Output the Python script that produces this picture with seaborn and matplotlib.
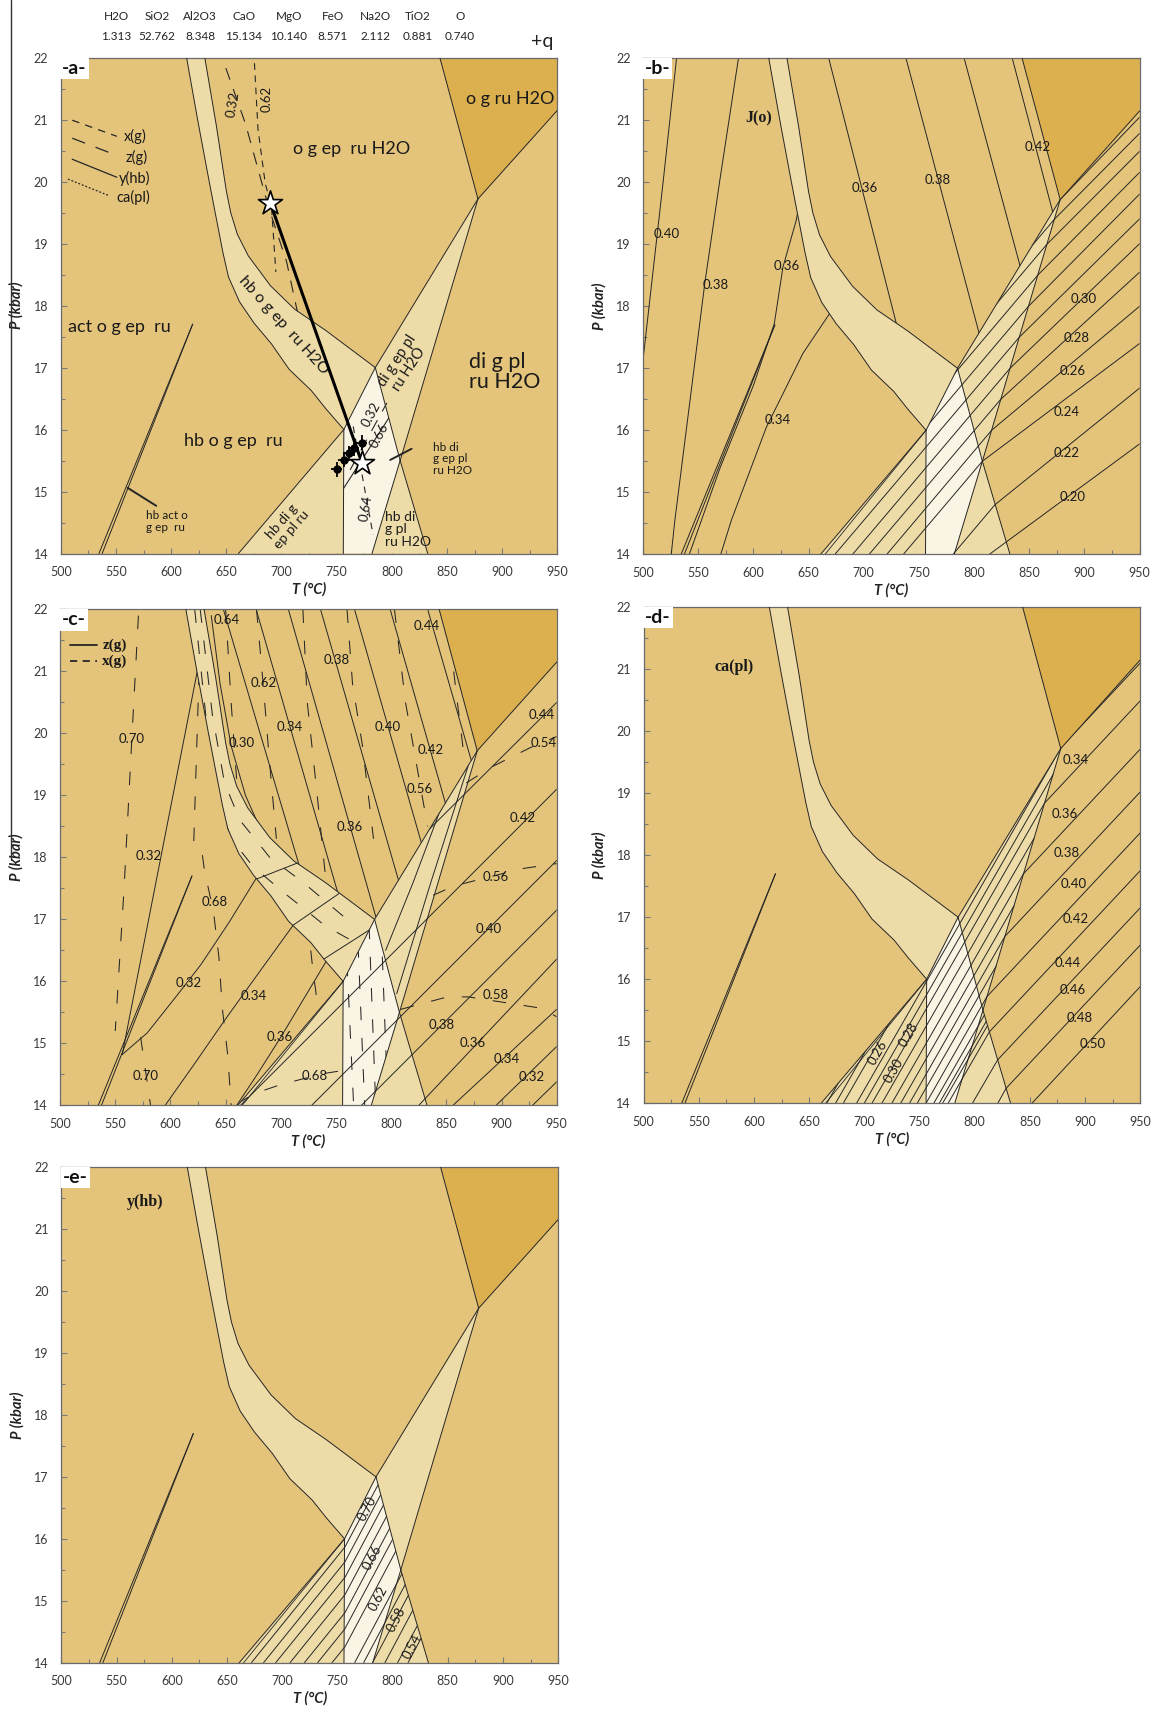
import matplotlib
matplotlib.use('Agg')
import matplotlib.pyplot as plt
from matplotlib.patches import Polygon
from matplotlib.lines import Line2D
from matplotlib.ticker import MultipleLocator
import seaborn as sns

sns.set_theme(style="white")
plt.rcParams['font.family'] = ['Lato', 'DejaVu Sans']

# colours of the fields
TAN = '#E4C47A'
LIGHT = '#EEDCA8'
PALE = '#FAF4E4'
DARK = '#DCAF4F'
INK = '#262626'

# ====================================================
#           BULK COMPOSITION (header)
# ====================================================
OXIDES = ['H2O', 'SiO2', 'Al2O3', 'CaO', 'MgO', 'FeO', 'Na2O', 'TiO2', 'O']
OXIDE_VALUES = ['1.313', '52.762', '8.348', '15.134', '10.140', '8.571', '2.112', '0.881', '0.740']

# ====================================================
#      SHARED PSEUDOSECTION TOPOLOGY  (T degC, P kbar)
# ====================================================
band_left_T = [614, 624, 634.5, 641, 647, 652, 662, 675, 691, 707, 727, 740, 756.5]
band_left_P = [22, 21, 20, 19.4, 18.85, 18.46, 18.06, 17.72, 17.38, 16.97, 16.63, 16.34, 16.0]
band_right_T = [630.5, 641, 650, 654, 660, 670, 690, 712, 740, 785]
band_right_P = [22, 20.9, 19.85, 19.5, 19.15, 18.8, 18.32, 17.94, 17.6, 17.0]

C = (756.5, 16.0)
D = (785, 17.0)
E = (878, 19.72)
F = (807.5, 15.5)
G = (843.5, 22)
H = (950, 21.15)
BOT_LIGHT_L = (661, 14)
BOT_PALE_L = (756, 14)
BOT_PALE_R = (782, 14)
BOT_LIGHT_R = (832.5, 14)
ACT_LINES = [[(534.6, 14), (619.5, 17.7)], [(537.5, 14), (619.5, 17.7)]]

BAND_L = list(zip(band_left_T, band_left_P))
BAND_R = list(zip(band_right_T, band_right_P))

BAND = BAND_L + BAND_R[::-1]
DARK_FIELD = [G, (950, 22), H, E]
DI_BAND = [D, E, F]
PALE_FIELD = [C, D, F, BOT_PALE_R, BOT_PALE_L]
HB_DI_PL = [F, BOT_LIGHT_R, BOT_PALE_R]
HB_DI_EP = [C, BOT_PALE_L, BOT_LIGHT_L]

FIELDS = [(BAND, LIGHT), (DARK_FIELD, DARK), (DI_BAND, LIGHT), (PALE_FIELD, PALE),
          (HB_DI_PL, LIGHT), (HB_DI_EP, LIGHT)]

BOUNDARIES = [BAND_L, BAND_R, [C, D], [D, E], [E, H], [G, E], [E, F],
              [D, F, BOT_PALE_R], [F, BOT_LIGHT_R], [C, BOT_PALE_L], [C, BOT_LIGHT_L]] + ACT_LINES

# clip zones for isopleths
ZONES = {
    'pl': [BOT_LIGHT_L, C, D, E, H, (950, 14)],
    'upper': BAND_R + [E, G],
    'left': [(500, 14), (500, 22)] + BAND_L + [BOT_LIGHT_L],
    'hbpl': [BOT_LIGHT_L, C, D, F, BOT_LIGHT_R],
    'band': BAND,
    'pale': PALE_FIELD,
    'di': DI_BAND,
}

# ====================================================
#            PANEL a : phase assemblages
# ====================================================
A_FIELD_LABELS = [
    ('o g ru H2O', 907, 21.34, 0, 13, 'center'),
    ('o g ep  ru H2O', 763.5, 20.53, 0, 13, 'center'),
    ('act o g ep  ru', 507, 17.65, 0, 13, 'left'),
    ('hb o g ep  ru', 656, 15.82, 0, 13, 'center'),
    ('di g pl\nru H2O', 869.7, 16.93, 0, 15.5, 'left'),
    ('hb o g ep  ru H2O', 701.4, 17.68, -48, 11.5, 'center'),
    ('di g ep pl\nru H2O', 810, 17.04, 57, 10.5, 'center'),
    ('hb di g\nep pl ru', 704.6, 14.45, 49, 10, 'center'),
    ('hb di\ng pl\nru H2O', 793.6, 14.39, 0, 10, 'left'),
    ('hb di\ng ep pl\nru H2O', 837.3, 15.53, 0, 8.5, 'left'),
    ('hb act o\ng ep  ru', 576.8, 14.52, 0, 8.5, 'left'),
]
A_POINTERS = [[(798.5, 15.51), (817.9, 15.69)], [(560.6, 15.06), (586.5, 14.77)]]
A_LONGDASH = [[(649.6, 21.83), (667.4, 20.93), (688.4, 19.58), (704.6, 18.71), (714.3, 17.91)],
              [(762.2, 15.35), (795.5, 16.43)]]
A_DASH = [[(675.5, 21.91), (678.7, 20.85), (685.2, 19.98), (691, 19.58), (694.9, 18.54)],
          [(765, 16.05), (783, 14.3)]]
A_SOLID = [[(756.2, 15.05), (797, 16.18)]]
A_ISO_LABELS = [('0.32', 656, 21.25, 80), ('0.62', 686.8, 21.34, 90),
                ('0.32', 781.5, 16.24, 62), ('0.66', 789, 15.9, 62), ('0.64', 776.5, 14.73, 80)]
A_LEGEND = [('x(g)', [(510.4, 20.99), (550.8, 20.73)], (0, (6, 5)), (557.3, 20.72)),
            ('z(g)', [(510.4, 20.70), (552.4, 20.41)], (0, (11, 9)), (558.3, 20.39)),
            ('y(hb)', [(510.4, 20.36), (550.8, 20.07)], '-', (552.4, 20.05)),
            ('ca(pl)', [(506.5, 20.04), (542.7, 19.78)], (0, (1.5, 1.5)), (550.8, 19.75))]
PATH_T = [690, 773]
PATH_P = [19.65, 15.46]
PT_T = [750.2, 756.2, 761.6, 765.3, 772.9]
PT_P = [15.36, 15.51, 15.62, 15.70, 15.79]

# ====================================================
#            PANEL b : J(o)
# ====================================================
B_LINES = [
    ('left', [(530.4, 22), (518.4, 20.03), (500, 17.13), (498, 16.8)]),
    ('left', [(586.5, 22), (569.6, 20.03), (556, 18.37), (528.9, 14.55), (525.6, 14)]),
    ('left', [(641, 19.6), (638.9, 19.39), (626.8, 18.63), (619, 17.72), (600, 16.72), (570, 15.4), (542, 14)]),
    ('left', [(672, 18.0), (669, 17.88), (644.9, 17.24), (623.8, 16.48), (611.8, 16.05), (580.1, 14.55), (570.5, 14)]),
    ('upper', [(668.3, 22), (735, 17.34)]),
    ('upper', [(738.3, 22), (810, 17.2)]),
    ('upper', [(791, 22), (850, 18.1)]),
    ('upper', [(834.6, 22), (876, 19.2)]),
    ('pl', [(606, 14), (878, 19.72), (950, 21.05)]),
    ('pl', [(616, 14), (872.6, 19.4), (950, 20.79)]),
    ('pl', [(628, 14), (866, 19.0), (950, 20.5)]),
    ('pl', [(644, 14), (857.6, 18.5), (950, 20.16)]),
    ('pl', [(659, 14), (849.3, 18.0), (950, 19.81)]),
    ('pl', [(674, 14), (840.9, 17.5), (950, 19.41)]),
    ('pl', [(690, 14), (832.6, 17.0), (950, 19.01)]),
    ('pl', [(705, 14), (824.2, 16.5), (950, 18.55)]),
    ('pl', [(721, 14), (815.9, 16.0), (950, 18.0)]),
    ('pl', [(736, 14), (807.5, 15.5), (950, 17.4)]),
    ('pl', [(781, 14), (819, 14.8), (950, 16.68)]),
    ('pl', [(814, 14), (950, 15.78)]),
]
B_LABELS = [('0.40', 521.4, 19.16), ('0.38', 566, 18.35), ('0.36', 630.4, 18.65), ('0.34', 622.3, 16.16),
            ('0.36', 700.6, 19.9), ('0.38', 766.8, 20.04), ('0.42', 857.2, 20.57),
            ('0.30', 899, 18.12), ('0.28', 892.6, 17.49), ('0.26', 889.4, 16.95),
            ('0.24', 884, 16.3), ('0.22', 884, 15.64), ('0.20', 889.4, 14.92)]

# ====================================================
#            PANEL c : z(g) solid, x(g) dashed
# ====================================================
C_SOLID = [
    ('upper', [(648, 22), (722, 17.55)]),
    ('upper', [(677.7, 22), (757, 17.1)]),
    ('upper', [(706.9, 22), (790, 16.8)]),
    ('upper', [(736, 22), (812, 17.3)]),
    ('upper', [(766.8, 22), (836, 17.7)]),
    ('upper', [(799.1, 22), (860, 18.2)]),
    ('upper', [(833.1, 22), (885, 18.8)]),
    ('upper', [(637, 21.9), (645, 20.8), (655, 19.8), (668, 19.0), (678, 18.6)]),
    ('band', [(675, 17.63), (718, 17.93)]),
    ('band', [(709, 16.88), (753, 17.42)]),
    ('band', [(739, 16.36), (782, 16.85)]),
    ('di', [(805, 15.8), (836, 17.6), (872, 19.6)]),
    ('di', [(795, 16.5), (820, 17.6), (860, 19.5)]),
    ('left', [(556.3, 14.82), (624.3, 21.0), (626, 21.2)]),
    ('left', [(556.3, 14.82), (579, 15.17), (604.9, 15.75), (627.6, 16.27), (653.4, 16.96), (679, 17.7)]),
    ('left', [(595.2, 14), (621, 14.65), (650.2, 15.4), (679.3, 16.12), (713, 16.95)]),
    ('left', [(660, 14), (678.3, 14.49), (700, 15.1), (742, 16.35)]),
    ('pl', [(583, 14), (950, 20.5)]),
    ('pl', [(663.5, 14), (950, 19.1)]),
    ('pl', [(728, 14), (950, 17.95)]),
    ('pl', [(773, 14), (950, 17.15)]),
    ('pl', [(825, 14), (950, 16.36)]),
    ('pl', [(856, 14), (950, 15.55)]),
    ('pl', [(895, 14), (950, 14.95)]),
    ('pl', [(928, 14), (950, 14.38)]),
]
C_DASH = [
    ('left', [(571, 21.9), (565, 19.9), (558, 17.5), (550, 15.2)]),
    ('left', [(573, 15.1), (582, 14)]),
    ('left', [(626, 21.0), (621, 18.17), (629, 18.03), (631, 17.77), (639, 17.13), (644, 16.38),
              (647, 15.57), (652, 14.8), (655, 14)]),
    ('left', [(724, 17.0), (729, 16.2), (735, 15.4)]),
    ('upper', [(650, 22), (655, 20.5), (661, 19.0)]),
    ('upper', [(678, 22), (684, 20.8), (690, 19.5), (696, 18.3)]),
    ('upper', [(720, 22), (724, 20.5), (733, 19.0), (741, 17.6)]),
    ('upper', [(760, 22), (765, 20.8), (774, 19.8), (784, 18.3)]),
    ('upper', [(803, 22), (813, 20.5), (825, 19.3), (833, 18.5)]),
    ('upper', [(850, 22), (860, 20.5), (867, 19.5)]),
    ('band', [(622, 22), (632, 20.3), (642, 19.0), (655, 18.3), (675, 17.85), (705, 17.4), (740, 16.9), (770, 16.6)]),
    ('band', [(627, 22), (638, 20.3), (649, 19.2), (663, 18.6), (690, 18.0), (720, 17.6), (760, 17.0)]),
    ('pale', [(760, 16.3), (766, 14)]),
    ('pale', [(770, 16.6), (776, 14)]),
    ('pale', [(780, 16.9), (786, 14)]),
    ('pale', [(792, 16.4), (796, 14.5)]),
    ('pl', [(868, 19.2), (890, 19.45), (926, 19.77), (950, 19.95)]),
    ('pl', [(838, 17.39), (857, 17.54), (919, 17.82), (950, 17.9)]),
    ('pl', [(808.8, 15.55), (851, 15.75), (870, 15.75), (935, 15.57), (950, 15.43)]),
    ('pl', [(660, 14.02), (676, 14.19), (699, 14.33), (737.6, 14.51), (755.4, 14.56)]),
]
C_LABELS = [('0.64', 651, 21.83), ('0.62', 684.3, 20.82), ('0.30', 664.7, 19.85), ('0.34', 708.5, 20.1),
            ('0.38', 750.8, 21.18), ('0.40', 796.7, 20.11), ('0.42', 835.4, 19.73), ('0.44', 832.4, 21.74),
            ('0.56', 825.7, 19.11), ('0.36', 762.9, 18.49), ('0.70', 564.4, 19.91), ('0.32', 580.6, 18.03),
            ('0.68', 640.5, 17.28), ('0.32', 616.3, 15.97), ('0.34', 675.2, 15.77), ('0.36', 699.4, 15.11),
            ('0.70', 577.4, 14.47), ('0.68', 731.1, 14.47), ('0.44', 936.7, 20.3), ('0.54', 938.3, 19.85),
            ('0.42', 919.5, 18.63), ('0.56', 894.6, 17.68), ('0.40', 888.1, 16.85), ('0.58', 894.6, 15.78),
            ('0.38', 846, 15.3), ('0.36', 874.2, 15.01), ('0.34', 905, 14.75), ('0.32', 927, 14.45)]

# ====================================================
#            PANEL d : ca(pl)
# ====================================================
D_LINES = [
    [(693, 14), (878.3, 19.74), (950, 21.10)],
    [(707, 14), (863.3, 18.84), (950, 20.49)],
    [(725, 14), (844.2, 17.70), (950, 19.71)],
    [(741, 14), (827.4, 16.69), (950, 19.02)],
    [(756, 14), (811.2, 15.72), (950, 18.36)],
    [(776, 14), (813.3, 15.15), (950, 17.75)],
    [(798, 14), (820.9, 14.70), (950, 17.15)],
    [(821, 14), (828.5, 14.24), (950, 16.55)],
    [(852, 14), (950, 15.88)],
    [(666, 14), (850, 19.7)],
    [(674, 14), (858, 19.7)],
    [(681, 14), (865, 19.7)],
    [(700, 14), (871, 19.3)],
    [(716, 14), (853.7, 18.27)],
    [(733, 14), (835.5, 17.18)],
    [(748, 14), (819.4, 16.21)],
    [(763, 14), (808.8, 15.42)],
    [(768, 14), (810.5, 15.32)],
    [(771, 14), (811.6, 15.25)],
]
D_LABELS = [('0.34', 892, 19.54, 0), ('0.36', 881.4, 18.67, 0), ('0.38', 883.3, 18.04, 0),
            ('0.40', 889.7, 17.53, 0), ('0.42', 891.3, 16.97, 0), ('0.44', 884, 16.26, 0),
            ('0.46', 888.8, 15.83, 0), ('0.48', 895.2, 15.37, 0), ('0.50', 907, 14.96, 0),
            ('0.26', 711.9, 14.82, 60), ('0.28', 740.4, 15.11, 60), ('0.30', 726.9, 14.53, 60)]

# ====================================================
#            PANEL e : y(hb)
# ====================================================
E_LINES = [
    [(672, 14), (756.9, 15.87), (800, 17.31)],
    [(683, 14), (756.9, 15.63), (800, 17.07)],
    [(694, 14), (756.9, 15.38), (800, 16.82)],
    [(707, 14), (756.9, 15.10), (810, 16.88)],
    [(720, 14), (756.9, 14.81), (815, 16.76)],
    [(732, 14), (756.9, 14.55), (820, 16.66)],
    [(745, 14), (756.9, 14.26), (825, 16.54)],
    [(765.6, 14), (830, 16.16)],
    [(773.7, 14), (835, 16.05)],
    [(781.8, 14), (840, 15.95)],
    [(793, 14), (845, 15.74)],
    [(804.5, 14), (850, 15.52)],
    [(814, 14), (855, 15.37)],
]
E_LABELS = [('0.70', 777, 16.48), ('0.66', 781.2, 15.70), ('0.62', 786.7, 15.04),
            ('0.58', 802.9, 14.70), ('0.54', 817.5, 14.26)]

# panel rectangles (figure fractions)
W, HGT = 0.4300, 0.2902
RECTS = {'a': [0.0526, 0.6761, W, HGT], 'b': [0.5567, 0.6757, W, HGT],
         'c': [0.0520, 0.3532, W, HGT], 'd': [0.5572, 0.3545, W, HGT],
         'e': [0.0532, 0.0270, W, HGT]}


# ====================================================
#                  HELPERS
# ====================================================
def curve(ax, pts, zone=None, lw=0.7, ls='-', color=INK, z=2):
    xs = [p[0] for p in pts]
    ys = [p[1] for p in pts]
    sns.lineplot(x=xs, y=ys, sort=False, estimator=None, ax=ax,
                 color=color, linewidth=lw, linestyle=ls, zorder=z)
    line = ax.lines[-1]
    if zone is not None:
        line.set_clip_path(Polygon(ZONES[zone], closed=True, transform=ax.transData))
    return line


def base_panel(fig, key, double=True):
    ax = fig.add_axes(RECTS[key])
    ax.set_facecolor(TAN)
    for pts, col in FIELDS:
        ax.fill([p[0] for p in pts], [p[1] for p in pts], color=col, lw=0, zorder=1)
    for pts in BOUNDARIES:
        curve(ax, pts, lw=0.7, z=3)
    if double:
        curve(ax, [C, (665, 14)], lw=0.6, z=3)
    return ax


def finish(ax, key):
    ax.set_xlim(500, 950)
    ax.set_ylim(14, 22)
    ax.xaxis.set_major_locator(MultipleLocator(50))
    ax.xaxis.set_minor_locator(MultipleLocator(25))
    ax.yaxis.set_major_locator(MultipleLocator(1))
    ax.yaxis.set_minor_locator(MultipleLocator(0.5))
    ax.tick_params(which='both', direction='in', color='#7a7a7a', width=0.8,
                   bottom=True, left=True, top=False, right=False)
    ax.tick_params(which='major', length=4, labelsize=9, labelcolor='#3a3a3a', pad=9)
    ax.tick_params(which='minor', length=3)
    for s in ax.spines.values():
        s.set_color('#6a6a6a')
        s.set_linewidth(0.9)
    ax.set_xlabel('T (°C)', fontsize=10.5, fontweight='bold', fontstyle='italic', labelpad=3, color='#222')
    ax.set_ylabel('P (kbar)', fontsize=10.5, fontweight='bold', fontstyle='italic', labelpad=7, color='#222')
    ax.text(0.003, 0.996, '-' + key + '-', transform=ax.transAxes, ha='left', va='top',
            fontsize=14, fontweight='bold', color='#111', zorder=10,
            bbox=dict(facecolor='white', edgecolor='none', pad=1.5))


def iso_label(ax, s, t, p, rot=0, size=9.5):
    ax.text(t, p, s, fontsize=size, rotation=rot, rotation_mode='anchor',
            ha='center', va='center', color='#1a1a1a', zorder=5, clip_on=True)


def serif_label(ax, s, t, p):
    ax.text(t, p, s, fontsize=11.5, fontweight='bold', family='Liberation Serif',
            ha='center', va='center', color='#1a1a1a', zorder=5)


# ====================================================
#                  FIGURE
# ====================================================
fig = plt.figure(figsize=(11.55, 17.09), dpi=100)
fig.patch.set_facecolor('white')

# header
HEADER_X = [116, 157, 200, 244, 289, 333, 375.5, 418, 460]
for name, val, x in zip(OXIDES, OXIDE_VALUES, HEADER_X):
    fig.text(x / 1155, 1 - 16.5 / 1709, name, ha='center', va='center', fontsize=8.5, color='#222')
    fig.text(x / 1155, 1 - 37 / 1709, val, ha='center', va='center', fontsize=8.5, color='#222')
fig.text(542 / 1155, 1 - 42 / 1709, '+q', ha='center', va='center', fontsize=14, color='#222')
fig.add_artist(Line2D([11 / 1155, 11 / 1155], [1, 1 - 860 / 1709], transform=fig.transFigure,
                      color='#333', lw=1.0))

# ---- panel a ----
ax = base_panel(fig, 'a', double=False)
for s, t, p, rot, size, ha in A_FIELD_LABELS:
    ax.text(t, p, s, fontsize=size, rotation=rot, rotation_mode='anchor', ha=ha, va='center',
            linespacing=1.05, color='#1a1a1a', zorder=5)
for pts in A_POINTERS:
    curve(ax, pts, lw=1.4, z=5)
for pts in A_LONGDASH:
    curve(ax, pts, ls=(0, (11, 9)), lw=0.8, z=4)
for pts in A_DASH:
    curve(ax, pts, ls=(0, (6, 5)), lw=0.8, z=4)
for pts in A_SOLID:
    curve(ax, pts, lw=0.8, z=4)
for s, t, p, rot in A_ISO_LABELS:
    iso_label(ax, s, t, p, rot, size=9.5)
for name, pts, ls, (tx, ty) in A_LEGEND:
    curve(ax, pts, ls=ls, lw=0.9, z=4)
    ax.text(tx, ty, name, fontsize=10.5, ha='left', va='center', color='#1a1a1a', zorder=5)
curve(ax, list(zip(PATH_T, PATH_P)), lw=2.2, color='black', z=6)
ax.errorbar(PT_T, PT_P, xerr=5, yerr=0.12, fmt='o', ms=5, color='black', elinewidth=1.3,
            capsize=0, zorder=6)
sns.scatterplot(x=PATH_T, y=PATH_P, marker='*', s=330, color='white', edgecolor='black',
                linewidth=1.2, zorder=7, ax=ax)
finish(ax, 'a')

# ---- panel b ----
ax = base_panel(fig, 'b')
for zone, pts in B_LINES:
    curve(ax, pts, zone=zone, lw=0.7)
for s, t, p in B_LABELS:
    iso_label(ax, s, t, p)
serif_label(ax, 'J(o)', 605.1, 21.03)
finish(ax, 'b')

# ---- panel c ----
ax = base_panel(fig, 'c')
for zone, pts in C_SOLID:
    curve(ax, pts, zone=zone, lw=0.7)
for zone, pts in C_DASH:
    curve(ax, pts, zone=zone, lw=0.75, ls=(0, (13, 17)))
for s, t, p in C_LABELS:
    iso_label(ax, s, t, p)
curve(ax, [(509, 21.43), (533.3, 21.43)], lw=1.3, z=4)
curve(ax, [(509, 21.17), (533.3, 21.17)], lw=1.3, ls=(0, (4, 3)), z=4)
ax.text(539, 21.43, 'z(g)', fontsize=11, fontweight='bold', family='Liberation Serif',
        ha='left', va='center', color='#1a1a1a')
ax.text(537.5, 21.17, 'x(g)', fontsize=11, fontweight='bold', family='Liberation Serif',
        ha='left', va='center', color='#1a1a1a')
finish(ax, 'c')

# ---- panel d ----
ax = base_panel(fig, 'd')
for pts in D_LINES:
    curve(ax, pts, zone='pl', lw=0.7)
for s, t, p, rot in D_LABELS:
    iso_label(ax, s, t, p, rot)
serif_label(ax, 'ca(pl)', 582, 21.04)
finish(ax, 'd')

# ---- panel e ----
ax = base_panel(fig, 'e')
for pts in E_LINES:
    curve(ax, pts, zone='hbpl', lw=0.7)
for s, t, p in E_LABELS:
    iso_label(ax, s, t, p, 62)
serif_label(ax, 'y(hb)', 576.1, 21.44)
finish(ax, 'e')

fig.savefig('out.png', dpi=100, facecolor='white')
